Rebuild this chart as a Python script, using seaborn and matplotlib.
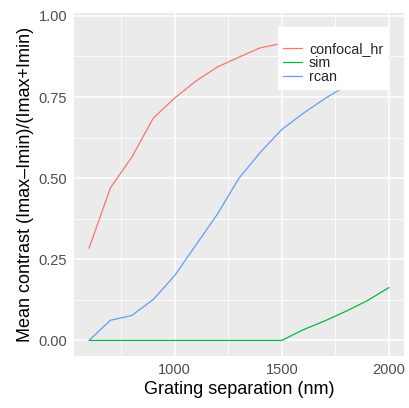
import numpy as np
import pandas as pd
import matplotlib
matplotlib.use("Agg")
import matplotlib.pyplot as plt
import seaborn as sns

# grating separations (nm)
separation = [600, 700, 800, 900, 1000, 1100, 1200, 1300, 1400, 1500,
              1600, 1700, 1800, 1900, 2000]

# mean contrast per method
confocal_hr = [0.284, 0.47, 0.565, 0.685, 0.747, 0.80, 0.843, 0.873, 0.902, 0.915,
               0.925, 0.935, 0.945, 0.953, 0.961]
sim = [0.0, 0.0, 0.0, 0.0, 0.0, 0.0, 0.0, 0.0, 0.0, 0.0,
       0.033, 0.06, 0.09, 0.123, 0.163]
rcan = [0.0, 0.062, 0.077, 0.126, 0.20, 0.295, 0.39, 0.50, 0.58, 0.65,
        0.70, 0.745, 0.785, 0.83, 0.872]

methods = ["confocal_hr", "sim", "rcan"]
colors = ["#F8766D", "#00BA38", "#619CFF"]

df = pd.DataFrame({
    "separation": separation * 3,
    "contrast": confocal_hr + sim + rcan,
    "method": np.repeat(methods, len(separation)),
})

sns.set_theme(style="darkgrid", rc={
    "axes.facecolor": "#EBEBEB",
    "grid.color": "white",
})
plt.rcParams["font.family"] = ["Liberation Sans", "DejaVu Sans"]

fig = plt.figure(figsize=(4.09, 4.08), dpi=100)
ax = fig.add_axes([74 / 409, 1 - 356 / 408, 330 / 409, 343 / 408])

sns.lineplot(data=df, x="separation", y="contrast", hue="method",
             hue_order=methods, palette=colors, linewidth=0.9, ax=ax)

ax.margins(0.05)
ax.set_xticks([1000, 1500, 2000])
ax.set_xticks([750, 1250, 1750], minor=True)
ax.set_yticks([0.0, 0.25, 0.5, 0.75, 1.0])
ax.set_yticks([0.125, 0.375, 0.625, 0.875], minor=True)
ax.set_yticklabels(["0.00", "0.25", "0.50", "0.75", "1.00"])
ax.grid(which="major", color="white", linewidth=1.1)
ax.grid(which="minor", color="white", linewidth=0.55)
for s in ax.spines.values():
    s.set_visible(False)
ax.tick_params(which="major", length=3, width=0.9, color="#333333",
               labelcolor="#4D4D4D", labelsize=10.5, pad=2)
ax.tick_params(which="minor", length=0)

ax.set_xlabel("Grating separation (nm)", fontsize=13, color="black", labelpad=3)
ax.set_ylabel("Mean contrast (Imax\u2013Imin)/(Imax+Imin)", fontsize=13,
              color="black", labelpad=3)

leg = ax.legend(loc="upper right", bbox_to_anchor=(0.952, 0.959), borderaxespad=0,
                frameon=True, fancybox=False, framealpha=1, edgecolor="white",
                facecolor="white", fontsize=10.3, title=" ", title_fontsize=8,
                labelspacing=0.0, handlelength=1.3, handletextpad=0.5,
                borderpad=0.35)

fig.savefig("out.png", dpi=100)
